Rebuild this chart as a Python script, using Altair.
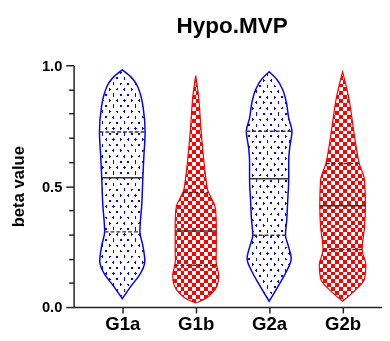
import numpy as np
import pandas as pd
import altair as alt

# ---------------- data ----------------
groups = ["G1a", "G1b", "G2a", "G2b"]
positions = [1, 2, 3, 4]
patterns = ["dots", "checks", "dots", "checks"]
colors = ["#0000ff", "#ff0000", "#0000ff", "#ff0000"]

# violin outlines: beta levels and half-width (density, px units) at each level
g1a_level = [0.981, 0.955, 0.925, 0.88, 0.82, 0.724, 0.62, 0.535, 0.43, 0.311, 0.254, 0.19, 0.132, 0.09, 0.035]
g1a_width = [0.0, 8.0, 14.0, 18.5, 21.5, 23.3, 22.0, 21.0, 20.0, 18.0, 21.0, 23.0, 17.5, 9.5, 0.0]

g1b_level = [0.957, 0.876, 0.74, 0.605, 0.52, 0.48, 0.45, 0.42, 0.38, 0.315, 0.254, 0.19, 0.13, 0.09, 0.055, 0.03, 0.017]
g1b_width = [0.0, 2.8, 5.3, 8.3, 10.8, 12.5, 16.0, 19.5, 20.7, 21.0, 21.0, 20.8, 23.5, 22.0, 16.0, 8.0, 0.0]

g2a_level = [0.973, 0.943, 0.902, 0.848, 0.781, 0.727, 0.659, 0.605, 0.531, 0.443, 0.362, 0.297, 0.254, 0.2, 0.146, 0.092, 0.024]
g2a_width = [0.0, 7.5, 13.5, 17.5, 20.0, 23.3, 21.0, 20.0, 20.0, 19.0, 18.0, 16.7, 19.5, 22.5, 17.5, 10.0, 0.0]

g2b_level = [0.973, 0.876, 0.74, 0.659, 0.594, 0.524, 0.419, 0.335, 0.238, 0.173, 0.118, 0.065, 0.024]
g2b_width = [0.0, 5.8, 11.0, 14.0, 17.0, 22.5, 23.3, 22.5, 20.0, 23.8, 22.5, 11.7, 0.0]

levels = [g1a_level, g1b_level, g2a_level, g2b_level]
widths = [g1a_width, g1b_width, g2a_width, g2b_width]

q1 = [0.311, 0.173, 0.297, 0.238]
median = [0.535, 0.315, 0.531, 0.419]
q3 = [0.724, 0.474, 0.727, 0.594]

y_ticks = [round(i * 0.1, 1) for i in range(11)]

# ---------------- layout ----------------
W, H = 315, 247
X_DOMAIN = [0.337, 4.537]
PX_PER_X = W / (X_DOMAIN[1] - X_DOMAIN[0])
PX_PER_Y = H
FONT = "Liberation Sans"

xscale = alt.Scale(domain=X_DOMAIN, nice=False, zero=False)
yscale = alt.Scale(domain=[0, 1], nice=False, zero=False)

label_expr = "[" + ",".join(["''"] + [f"'{g}'" for g in groups]) + "][datum.value]"
xaxis = alt.Axis(values=positions, labelExpr=label_expr, title=None, grid=False,
                 domainColor="#222", domainWidth=1.5, tickColor="#222", tickWidth=1.5,
                 tickSize=6, labelPadding=2, labelFont=FONT, labelFontWeight="bold",
                 labelFontSize=19, labelColor="black")
major = "abs(datum.value*2 - round(datum.value*2)) < 0.01"
yaxis = alt.Axis(values=y_ticks,
                 labelExpr=f"{major} ? format(datum.value, '.1f') : ''",
                 title="beta value", grid=False,
                 domainColor="#222", domainWidth=1.5, tickColor="#222", tickWidth=1.5,
                 tickSize={"condition": {"test": major, "value": 8}, "value": 5},
                 labelPadding=4, labelFont=FONT, labelFontWeight="bold",
                 labelFontSize=15, labelColor="black",
                 titleFont=FONT, titleFontWeight="bold", titleFontSize=17, titleColor="black",
                 titleX=-56, titleY=H / 2, titleAlign="center", titleBaseline="middle")


def X(field):
    return alt.X(field, type="quantitative", scale=xscale, axis=xaxis)


def Y(field):
    return alt.Y(field, type="quantitative", scale=yscale, axis=yaxis)


def stripes(bw, bh, nx, ny, period, on):
    """Black/white stripe gradient across a bw x bh box, stripes normal to (nx, ny)."""
    span = nx * bw + abs(ny) * bh
    k = span / (nx ** 2 * bw ** 2 + ny ** 2 * bh ** 2)
    x1, y1 = 0.0, (0.0 if ny >= 0 else 1.0)
    x2, y2 = k * nx * bw, y1 + k * ny * bh
    stops = []
    i = 0
    while True:
        a = i * period / span
        if a >= 1:
            break
        b = min((i * period + on) / span, 1.0)
        c = min((i + 1) * period / span, 1.0)
        stops += [{"offset": a, "color": "black"}, {"offset": b, "color": "black"},
                  {"offset": b, "color": "white"}, {"offset": c, "color": "white"}]
        i += 1
    return {"gradient": "linear", "stops": stops, "x1": x1, "y1": y1, "x2": x2, "y2": y2}


# staggered dot lattice: spacing within a row and between rows (px)
DX, DY = 7.5, 5.7
vlen = float(np.hypot(DX / 2, DY))
DOT_PERIOD = DX * DY / vlen
DOT_N = (DY / vlen, DX / 2 / vlen)

layers = []
for gi, g in enumerate(groups):
    lv = np.array(levels[gi])
    wd = np.array(widths[gi])
    df = pd.DataFrame({"level": lv, "xl": positions[gi] - wd / PX_PER_X,
                       "xr": positions[gi] + wd / PX_PER_X})
    bh = (lv.max() - lv.min()) * PX_PER_Y
    bw = 2 * wd.max()
    if patterns[gi] == "checks":
        g1 = stripes(bw, bh, 0.0, 1.0, 8, 4)
        g2 = stripes(bw, bh, 1.0, 0.0, 8, 4)
        blend2 = "difference"
    else:
        g1 = stripes(bw, bh, DOT_N[0], DOT_N[1], DOT_PERIOD, 1.9)
        g2 = stripes(bw, bh, DOT_N[0], -DOT_N[1], DOT_PERIOD, 1.9)
        blend2 = "lighten"
    base = alt.Chart(df).encode(y=Y("level"), x=X("xl"), x2="xr")
    layers.append(base.mark_area(orient="horizontal", interpolate="monotone", opacity=1, fill=g1))
    layers.append(base.mark_area(orient="horizontal", interpolate="monotone", opacity=1,
                                 fill=g2, blend=blend2))
    layers.append(base.mark_area(orient="horizontal", interpolate="monotone", opacity=1,
                                 fill=colors[gi], blend="screen"))
    layers.append(base.mark_area(orient="horizontal", interpolate="monotone",
                                 fillOpacity=0, stroke=colors[gi],
                                 strokeWidth=1.5 if patterns[gi] == "dots" else 1.2))

    order = np.argsort(lv)
    qs = [q1[gi], median[gi], q3[gi]]
    qw = np.interp(qs, lv[order], wd[order])
    qdf = pd.DataFrame({"q": qs, "kind": ["q1", "median", "q3"],
                        "xl": positions[gi] - qw / PX_PER_X,
                        "xr": positions[gi] + qw / PX_PER_X})
    qbase = alt.Chart(qdf).encode(y=Y("q"), x=X("xl"), x2="xr")
    layers.append(qbase.transform_filter("datum.kind != 'median'")
                  .mark_rule(color="#333", strokeWidth=1.5, strokeDash=[4, 2]))
    layers.append(qbase.transform_filter("datum.kind == 'median'")
                  .mark_rule(color="#333", strokeWidth=1.5))

chart = alt.layer(*layers).properties(
    width=W, height=H,
    title=alt.TitleParams("Hypo.MVP", font=FONT, fontSize=23, fontWeight="bold",
                          color="black", anchor="middle", offset=21, dx=4.5),
    padding={"left": 67, "top": 55, "right": 0, "bottom": 23},
    autosize=alt.AutoSizeParams(type="none"),
    background="white",
).configure_view(strokeWidth=0)

chart.save("out.html", embed_options={"renderer": "svg", "actions": False})
